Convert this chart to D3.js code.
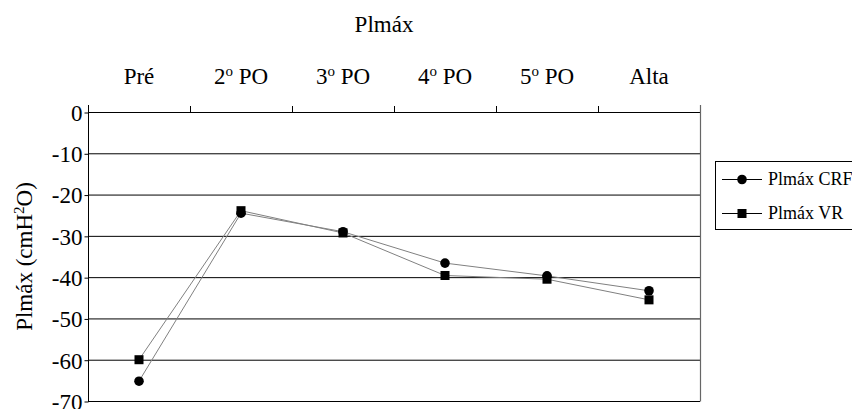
<!DOCTYPE html>
<html>
<head>
<meta charset="utf-8">
<script src="https://cdn.jsdelivr.net/npm/d3@7"></script>
</head>
<body style="margin:0;background:#fff">
<svg id="chart" width="852" height="409" style="display:block"></svg>
<script>
// ---- data ----
const categories = ["Pré", "2º PO", "3º PO", "4º PO", "5º PO", "Alta"];
const catMain = ["Pré", "2", "3", "4", "5", "Alta"];
const catSup  = [null, "o", "o", "o", "o", null];
const catRest = [null, " PO", " PO", " PO", " PO", null];
const seriesNames = ["Plmáx CRF", "Plmáx VR"];
const crf = [-65.2, -24.5, -29.0, -36.6, -39.7, -43.3];
const vr  = [-60.0, -23.9, -29.3, -39.6, -40.5, -45.5];
const yTicks = [0, -10, -20, -30, -40, -50, -60, -70];
const title = "Plmáx";

// ---- layout ----
const FONT = "'Liberation Serif', 'Times New Roman', Tinos, serif";
const svg = d3.select("#chart");
const pLeft = 88, pRight = 700, pTop = 112, pBottom = 401;

function serif(sel, size) {
  return sel.attr("font-family", "Liberation Serif")
    .style("font-family", FONT, "important")
    .style("font-size", size + "px")
    .attr("fill", "#000");
}

const x = d3.scaleBand().domain(categories).range([pLeft, pRight]).padding(0);
const y = d3.scaleLinear().domain([0, -70]).range([pTop, pBottom]);

// gridlines
svg.append("g").selectAll("line").data(yTicks).join("line")
  .attr("x1", pLeft).attr("x2", pRight)
  .attr("y1", d => y(d) + 0.5).attr("y2", d => y(d) + 0.5)
  .attr("stroke", "#000").attr("stroke-width", 1);

// right border
svg.append("line").attr("x1", pRight + 0.5).attr("x2", pRight + 0.5)
  .attr("y1", pTop - 7).attr("y2", pBottom + 0.5)
  .attr("stroke", "#666").attr("stroke-width", 1.2);

// left y axis
const yAxis = d3.axisLeft(y).tickValues(yTicks).tickSize(4).tickFormat(d => d);
const gy = svg.append("g").attr("transform", `translate(${pLeft + 0.5},0.5)`).call(yAxis)
  .attr("font-family", null).attr("font-size", null);
gy.select(".domain").attr("d", `M0,${pTop - 7.5}V${pBottom}`).attr("stroke", "#000");
gy.selectAll(".tick line").attr("stroke", "#000");
serif(gy.selectAll(".tick text").attr("x", -6).attr("dy", "0.34em"), 23);

// top category ticks
const tickXs = categories.map(c => x(c)).concat([pRight]);
svg.append("g").selectAll("line").data(tickXs.slice(1, -1)).join("line")
  .attr("x1", d => d + 0.5).attr("x2", d => d + 0.5)
  .attr("y1", pTop - 6).attr("y2", pTop)
  .attr("stroke", "#000");

// category labels
const catG = svg.append("g");
categories.forEach((c, i) => {
  const t = serif(catG.append("text")
    .attr("x", x(c) + x.bandwidth() / 2)
    .attr("y", 84)
    .attr("text-anchor", "middle"), 23);
  t.append("tspan").text(catMain[i]);
  if (catSup[i]) {
    t.append("tspan").attr("dy", "-8").style("font-size", "15px").text(catSup[i]);
    t.append("tspan").attr("dy", "8").text(catRest[i]);
  }
});

// title
serif(svg.append("text").attr("x", 384).attr("y", 32).attr("text-anchor", "middle"), 23).text(title);

// y label
const yl = serif(svg.append("text")
  .attr("transform", `translate(32,${(pTop + pBottom) / 2}) rotate(-90)`)
  .attr("text-anchor", "middle"), 23);
yl.append("tspan").text("Plmáx (cmH");
yl.append("tspan").attr("dy", "-8").style("font-size", "15px").text("2");
yl.append("tspan").attr("dy", "8").text("O)");

// series
const cx = c => x(c) + x.bandwidth() / 2;
const line = d3.line().x((d, i) => cx(categories[i])).y(d => y(d));
[crf, vr].forEach(s => {
  svg.append("path").datum(s).attr("d", line)
    .attr("fill", "none").attr("stroke", "#808080").attr("stroke-width", 1);
});
svg.append("g").selectAll("circle").data(crf).join("circle")
  .attr("cx", (d, i) => cx(categories[i])).attr("cy", d => y(d)).attr("r", 4.8)
  .attr("fill", "#000");
svg.append("g").selectAll("rect").data(vr).join("rect")
  .attr("x", (d, i) => cx(categories[i]) - 4.5).attr("y", d => y(d) - 4.5)
  .attr("width", 9).attr("height", 9).attr("fill", "#000");

// legend
const lg = svg.append("g");
lg.append("rect").attr("x", 715.5).attr("y", 161.5).attr("width", 150).attr("height", 68)
  .attr("fill", "#fff").attr("stroke", "#000").attr("stroke-width", 1);
const ly = [179, 213];
seriesNames.forEach((n, i) => {
  lg.append("line").attr("x1", 722).attr("x2", 762).attr("y1", ly[i] + 0.5).attr("y2", ly[i] + 0.5)
    .attr("stroke", "#000").attr("stroke-width", 1);
  if (i === 0) {
    lg.append("circle").attr("cx", 742).attr("cy", ly[i] + 0.5).attr("r", 4.8).attr("fill", "#000");
  } else {
    lg.append("rect").attr("x", 737.5).attr("y", ly[i] - 4).attr("width", 9).attr("height", 9).attr("fill", "#000");
  }
  serif(lg.append("text").attr("x", 768).attr("y", ly[i] + 6), 18).text(n);
});
</script>
</body>
</html>
